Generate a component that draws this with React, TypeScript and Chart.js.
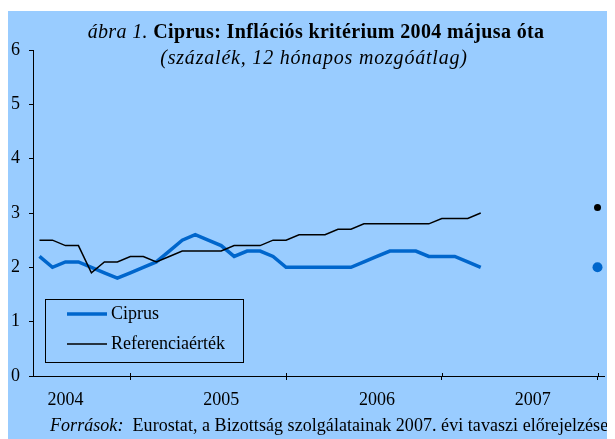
import React, { useEffect, useRef } from 'react';
import { Chart, registerables } from 'chart.js';

Chart.register(...registerables);

// Monthly categories, May 2004 - Dec 2007
const months = [
  '2004-05', '2004-06', '2004-07', '2004-08', '2004-09', '2004-10', '2004-11', '2004-12',
  '2005-01', '2005-02', '2005-03', '2005-04', '2005-05', '2005-06', '2005-07', '2005-08',
  '2005-09', '2005-10', '2005-11', '2005-12', '2006-01', '2006-02', '2006-03', '2006-04',
  '2006-05', '2006-06', '2006-07', '2006-08', '2006-09', '2006-10', '2006-11', '2006-12',
  '2007-01', '2007-02', '2007-03', '2007-04', '2007-05', '2007-06', '2007-07', '2007-08',
  '2007-09', '2007-10', '2007-11', '2007-12',
];

// 12-month moving average inflation, Cyprus (May 2004 - Mar 2007)
const ciprus = [
  2.2, 2.0, 2.1, 2.1, 2.0, 1.9, 1.8, 1.9, 2.0, 2.1, 2.3, 2.5,
  2.6, 2.5, 2.4, 2.2, 2.3, 2.3, 2.2, 2.0, 2.0, 2.0, 2.0, 2.0,
  2.0, 2.1, 2.2, 2.3, 2.3, 2.3, 2.2, 2.2, 2.2, 2.1, 2.0,
];

// Reference value (May 2004 - Mar 2007)
const referencia = [
  2.5, 2.5, 2.4, 2.4, 1.9, 2.1, 2.1, 2.2, 2.2, 2.1, 2.2, 2.3,
  2.3, 2.3, 2.3, 2.4, 2.4, 2.4, 2.5, 2.5, 2.6, 2.6, 2.6, 2.7,
  2.7, 2.8, 2.8, 2.8, 2.8, 2.8, 2.8, 2.9, 2.9, 2.9, 3.0,
];

// Commission spring 2007 forecasts
const forecastMonth = '2007-12';
const ciprusForecast = 2.0;
const referenciaForecast = 3.1;

const yMin = 0;
const yMax = 6;
const yStep = 1;

const labelMonth = '-07';
const tickMonth = '-12';

const titleItalic = 'ábra 1.';
const titleBold = 'Ciprus: Inflációs kritérium 2004 májusa óta';
const subtitle = '(százalék, 12 hónapos mozgóátlag)';
const sourceItalic = 'Források:';
const sourceText = 'Eurostat, a Bizottság szolgálatainak 2007. évi tavaszi előrejelzése';

const BG = '#99CCFF';
const BLUE = '#0066CC';
const BLACK = '#000000';
const FONT = '"Liberation Serif", "Times New Roman", serif';

const pad = (arr: number[]) => months.map((_, i) => (i < arr.length ? arr[i] : null));
const single = (v: number) => months.map((m) => (m === forecastMonth ? v : null));

const bgPlugin = {
  id: 'bgFill',
  beforeDraw(chart: any) {
    const { ctx, width, height } = chart;
    ctx.save();
    ctx.fillStyle = BG;
    ctx.fillRect(0, 0, width, height);
    ctx.restore();
  },
};

const decorPlugin = {
  id: 'decor',
  afterDraw(chart: any) {
    const { ctx, chartArea } = chart;
    const xs = chart.scales.x;
    ctx.save();
    // upper halves of the x-axis crosses
    ctx.strokeStyle = BLACK;
    ctx.lineWidth = 1;
    months.forEach((m, i) => {
      if (m.endsWith(tickMonth)) {
        const x = Math.round(xs.getPixelForValue(i)) + 0.5;
        ctx.beginPath();
        ctx.moveTo(x, chartArea.bottom - 3);
        ctx.lineTo(x, chartArea.bottom);
        ctx.stroke();
      }
    });

    // titles
    const cx = 308;
    ctx.fillStyle = BLACK;
    ctx.textBaseline = 'alphabetic';
    ctx.textAlign = 'left';
    ctx.letterSpacing = '0.35px';
    const f1i = `italic 20px ${FONT}`;
    const f1b = `bold 20px ${FONT}`;
    ctx.font = f1i;
    const wI = ctx.measureText(titleItalic + ' ').width;
    ctx.font = f1b;
    const wB = ctx.measureText(titleBold).width;
    const start = cx - (wI + wB) / 2;
    ctx.font = f1i;
    ctx.fillText(titleItalic + ' ', start, 27);
    ctx.font = f1b;
    ctx.fillText(titleBold, start + wI, 27);

    ctx.letterSpacing = '0.8px';
    ctx.font = `italic 20px ${FONT}`;
    const wSub = ctx.measureText(subtitle).width;
    ctx.fillText(subtitle, 306 - wSub / 2, 53);

    // source line
    ctx.letterSpacing = '0.05px';
    ctx.font = `italic 18px ${FONT}`;
    ctx.fillText(sourceItalic, 42, 420);
    const wS = ctx.measureText(sourceItalic + '  ').width;
    ctx.font = `18px ${FONT}`;
    ctx.fillText(sourceText, 42 + wS, 420);
    ctx.letterSpacing = '0px';

    // legend
    const ds = chart.data.datasets;
    const lx = chartArea.left + 12;
    const ly = chartArea.bottom - 77;
    ctx.strokeStyle = BLACK;
    ctx.lineWidth = 1;
    ctx.strokeRect(lx + 0.5, ly + 0.5, 198, 63);
    ctx.font = `18px ${FONT}`;
    ctx.textBaseline = 'middle';
    const rows = [ds[0], ds[1]];
    rows.forEach((d: any, k: number) => {
      const y = ly + 15 + k * 30;
      ctx.strokeStyle = d.borderColor;
      ctx.lineWidth = d.borderWidth;
      ctx.beginPath();
      ctx.moveTo(lx + 22, y);
      ctx.lineTo(lx + 62, y);
      ctx.stroke();
      ctx.fillStyle = BLACK;
      ctx.fillText(d.label, lx + 66, y);
    });
    ctx.restore();
  },
};

export default function App() {
  const ref = useRef<HTMLCanvasElement | null>(null);

  useEffect(() => {
    if (!ref.current) return;
    const chart = new Chart(ref.current, {
      type: 'line',
      data: {
        labels: months,
        datasets: [
          {
            label: 'Ciprus',
            data: pad(ciprus),
            borderColor: BLUE,
            backgroundColor: BLUE,
            borderWidth: 3.5,
            pointRadius: 0,
            tension: 0,
            order: 2,
          },
          {
            label: 'Referenciaérték',
            data: pad(referencia),
            borderColor: BLACK,
            backgroundColor: BLACK,
            borderWidth: 1.5,
            pointRadius: 0,
            tension: 0,
            order: 1,
          },
          {
            label: 'Ciprus előrejelzés',
            data: single(ciprusForecast),
            showLine: false,
            pointRadius: 5,
            pointBorderWidth: 0,
            pointBackgroundColor: BLUE,
            borderColor: BLUE,
            order: 4,
          },
          {
            label: 'Referenciaérték előrejelzés',
            data: single(referenciaForecast),
            showLine: false,
            pointRadius: 3.5,
            pointBorderWidth: 0,
            pointBackgroundColor: BLACK,
            borderColor: BLACK,
            order: 3,
          },
        ],
      },
      options: {
        responsive: false,
        animation: false,
        layout: { padding: { top: 39, right: 11, left: 0, bottom: 0 } },
        plugins: {
          legend: { display: false },
          title: { display: false },
          tooltip: { enabled: false },
        },
        scales: {
          x: {
            type: 'category',
            offset: true,
            border: { display: true, color: BLACK, width: 1 },
            grid: {
              offset: false,
              drawOnChartArea: false,
              drawTicks: true,
              tickLength: 4,
              color: (c: any) =>
                months[c.index] && months[c.index].endsWith(tickMonth) ? BLACK : 'rgba(0,0,0,0)',
            },
            ticks: {
              autoSkip: false,
              maxRotation: 0,
              minRotation: 0,
              padding: 9,
              color: BLACK,
              font: { family: FONT, size: 18 },
              callback: (_v: any, i: number) =>
                months[i].endsWith(labelMonth) ? months[i].slice(0, 4) : '',
            },
            afterFit: (s: any) => {
              s.height = 63;
            },
          },
          y: {
            min: yMin,
            max: yMax,
            border: { display: true, color: BLACK, width: 1 },
            grid: {
              drawOnChartArea: false,
              drawTicks: true,
              tickLength: 4,
              color: BLACK,
            },
            ticks: {
              stepSize: yStep,
              padding: 9,
              color: BLACK,
              font: { family: FONT, size: 18 },
            },
            afterFit: (s: any) => {
              s.width = 25;
            },
          },
        },
      },
      plugins: [bgPlugin, decorPlugin],
    });
    return () => chart.destroy();
  }, []);

  return (
    <div style={{ paddingTop: 3 }}>
      <canvas ref={ref} width={607} height={428} style={{ display: 'block' }} />
    </div>
  );
}
